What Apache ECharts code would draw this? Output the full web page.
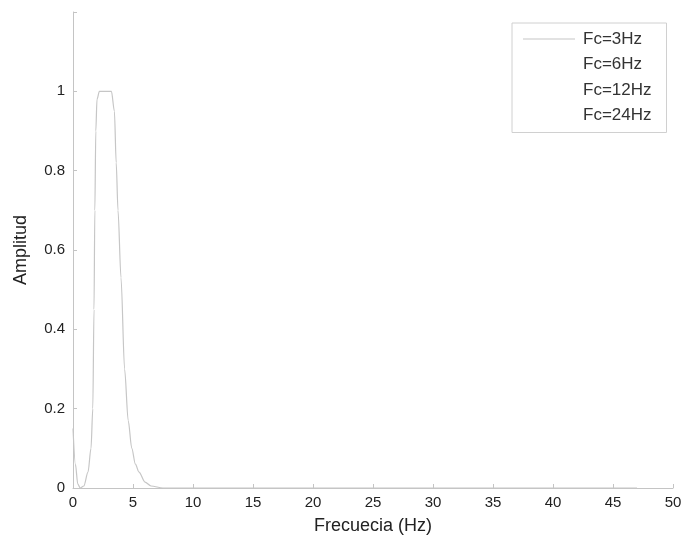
<!DOCTYPE html>
<html>
<head>
<meta charset="utf-8">
<script src="https://cdn.jsdelivr.net/npm/echarts@6/dist/echarts.min.js"></script>
<style>
  html, body { margin: 0; padding: 0; background: #fff; }
  #chart { width: 687px; height: 540px; }
</style>
</head>
<body>
<div id="chart"></div>
<script>
// values (only the Fc=3Hz trace is visible)
const freq3 = [0, 0.2, 0.4, 0.6, 0.9, 1.25, 1.5, 1.65, 1.75, 1.82, 1.9, 2.0, 2.2, 3.2, 3.45, 3.6, 3.75, 4.0, 4.3, 4.6, 4.9, 5.2, 5.5, 6.0, 6.5, 7.5, 47];
const amp3  = [0.15, 0.06, 0.01, 0, 0.005, 0.04, 0.1, 0.2, 0.45, 0.7, 0.9, 0.98, 1.0, 1.0, 0.95, 0.82, 0.7, 0.53, 0.3, 0.17, 0.1, 0.06, 0.04, 0.015, 0.005, 0, 0];
const seriesNames = ['Fc=3Hz', 'Fc=6Hz', 'Fc=12Hz', 'Fc=24Hz'];
const xTicks = [0, 5, 10, 15, 20, 25, 30, 35, 40, 45, 50];
const yTicks = [0, 0.2, 0.4, 0.6, 0.8, 1];

const myChart = echarts.init(document.getElementById('chart'));

const font = 'Arial, "Liberation Sans", sans-serif';
const axisGray = '#c4c4c4';
const traceGray = '#c6c6c6';

const series = seriesNames.map((name, i) => ({
  name: name,
  type: 'line',
  symbol: 'none',
  smooth: 0.3,
  smoothMonotone: 'x',
  lineStyle: { width: 1.2, color: i === 0 ? traceGray : '#ffffff' },
  itemStyle: { color: i === 0 ? traceGray : '#ffffff' },
  data: i === 0 ? freq3.map((f, k) => [f, amp3[k]]) : []
}));

myChart.setOption({
  animation: false,
  grid: { left: 73, right: 14, top: 12, bottom: 48 },
  legend: {
    left: 512,
    top: 23,
    orient: 'vertical',
    icon: 'rect',
    padding: [7, 15, 8, 11],
    itemWidth: 52,
    itemHeight: 1,
    itemGap: 7.5,
    borderColor: '#d0d0d0',
    borderWidth: 1,
    textStyle: { fontFamily: font, fontSize: 17, lineHeight: 18, color: '#333', padding: [0, 0, 0, 3] },
    data: seriesNames
  },
  xAxis: {
    type: 'value',
    min: 0,
    max: 50,
    interval: 5,
    name: 'Frecuecia (Hz)',
    nameLocation: 'middle',
    nameGap: 29,
    nameTextStyle: { fontFamily: font, fontSize: 18, color: '#222' },
    axisLine: { lineStyle: { color: axisGray, width: 1 } },
    axisTick: { inside: true, length: 4, lineStyle: { color: axisGray } },
    splitLine: { show: false },
    axisLabel: {
      fontFamily: font, fontSize: 15, color: '#222', margin: 7,
      formatter: v => xTicks.includes(v) ? String(v) : ''
    }
  },
  yAxis: {
    type: 'value',
    min: 0,
    max: 1.2,
    interval: 0.2,
    name: 'Amplitud',
    nameLocation: 'middle',
    nameGap: 43,
    nameTextStyle: { fontFamily: font, fontSize: 18, color: '#222' },
    axisLine: { show: true, lineStyle: { color: axisGray, width: 1 } },
    axisTick: { inside: true, length: 4, lineStyle: { color: axisGray } },
    splitLine: { show: false },
    axisLabel: {
      fontFamily: font, fontSize: 15, color: '#222', margin: 8,
      formatter: v => {
        const r = Math.round(v * 10) / 10;
        return yTicks.includes(r) ? String(r) : '';
      }
    }
  },
  series: series
});
</script>
</body>
</html>
